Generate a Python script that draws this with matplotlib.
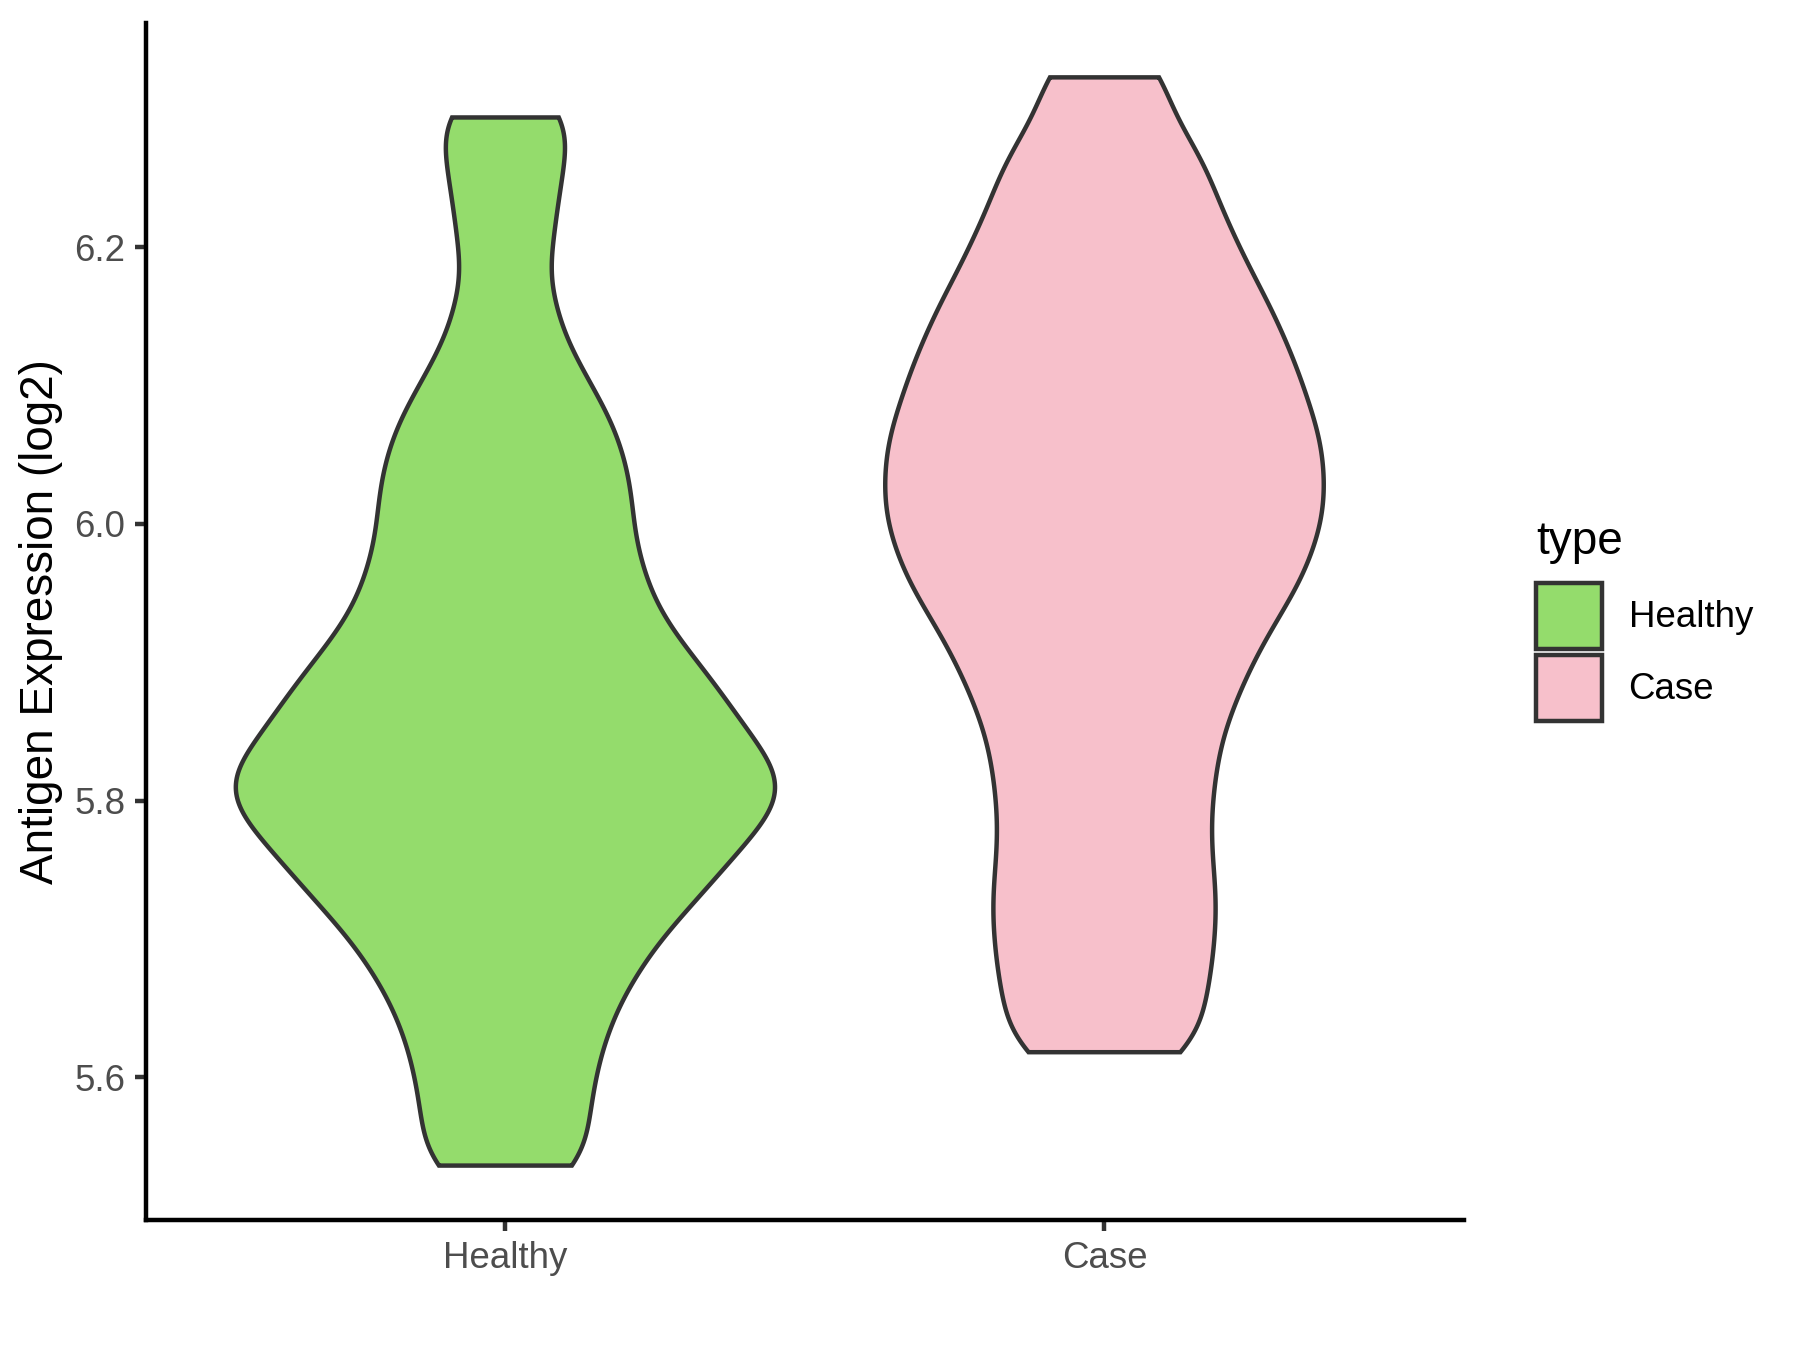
import numpy as np
import matplotlib.pyplot as plt
from matplotlib.patches import Patch

plt.rcParams['font.family'] = ['Liberation Sans', 'DejaVu Sans']

# expression values (log2) per group, estimated from the violin shapes
healthy_values = [5.536, 5.558, 5.579, 5.598, 5.617, 5.634, 5.650, 5.665, 5.678, 5.690,
                  5.702, 5.712, 5.722, 5.731, 5.739, 5.7471, 5.7554, 5.7626, 5.7697, 5.7767,
                  5.7837, 5.7896, 5.7964, 5.8021, 5.8079, 5.8136, 5.8194, 5.8253, 5.8323, 5.8383,
                  5.8454, 5.8525, 5.8598, 5.867, 5.875, 5.882, 5.891, 5.899, 5.908, 5.918,
                  5.928, 5.939, 5.951, 5.963, 5.975, 5.988, 6.002, 6.015, 6.028, 6.042,
                  6.056, 6.071, 6.087, 6.106, 6.130, 6.162, 6.201, 6.235, 6.265, 6.294]
case_values = [5.618, 5.637, 5.654, 5.671, 5.686, 5.702, 5.717, 5.732, 5.747, 5.763,
               5.779, 5.795, 5.811, 5.826, 5.841, 5.856, 5.869, 5.882, 5.894, 5.906,
               5.916, 5.927, 5.937, 5.946, 5.955, 5.963, 5.972, 5.980, 5.988, 5.996,
               6.004, 6.011, 6.019, 6.027, 6.034, 6.042, 6.050, 6.058, 6.065, 6.073,
               6.081, 6.090, 6.098, 6.107, 6.115, 6.124, 6.134, 6.143, 6.153, 6.163,
               6.174, 6.185, 6.198, 6.210, 6.224, 6.239, 6.255, 6.271, 6.292, 6.323]

groups = ["Healthy", "Case"]
colors = ["#94DC6C", "#F7C0CB"]
yticks = [5.6, 5.8, 6.0, 6.2]
bw = 0.025
edge_weight = 0.25  # partial reflection at the trimmed ends


def kde(vals, n=512):
    vals = np.asarray(vals)
    a, b = vals.min(), vals.max()
    grid = np.linspace(a, b, n)

    def k(centers):
        return np.exp(-0.5 * ((grid[:, None] - centers[None, :]) / bw) ** 2).sum(axis=1)

    d = k(vals) + edge_weight * (k(2 * a - vals) + k(2 * b - vals))
    d = d / (len(vals) * bw * np.sqrt(2 * np.pi))
    return grid, d


fig = plt.figure(figsize=(6, 4.5), dpi=300)
ax = fig.add_axes([0.0811, 0.0963, 0.7322, 0.8867])

dens = [kde(v) for v in [healthy_values, case_values]]
dmax = max(d.max() for _, d in dens)

for i, ((grid, d), col) in enumerate(zip(dens, colors)):
    pos = i + 1
    w = 0.45 * d / dmax
    xs = np.concatenate([pos - w, (pos + w)[::-1]])
    ys = np.concatenate([grid, grid[::-1]])
    ax.fill(xs, ys, facecolor=col, edgecolor="#333333", linewidth=1.07, zorder=2)

allv = np.concatenate([healthy_values, case_values])
lo, hi = allv.min(), allv.max()
pad = 0.05 * (hi - lo)
ax.set_ylim(lo - pad, hi + pad)
ax.set_xlim(0.4, 2.6)

ax.set_xticks([1, 2])
ax.set_xticklabels(groups)
ax.set_yticks(yticks)
ax.set_yticklabels([f"{t:.1f}" for t in yticks])
ax.tick_params(axis="both", length=2.75, width=1.07, color="#333333",
               labelsize=8.8, labelcolor="#4D4D4D", pad=2.2)

for s in ["top", "right"]:
    ax.spines[s].set_visible(False)
for s in ["left", "bottom"]:
    ax.spines[s].set_linewidth(1.07)
    ax.spines[s].set_color("black")

ax.set_ylabel("Antigen Expression (log2)", fontsize=11, color="black", labelpad=2.6)

handles = [Patch(facecolor=c, edgecolor="#333333", linewidth=1.07, label=g)
           for g, c in zip(groups, colors)]
leg = ax.legend(handles=handles, title="type", loc="upper left",
                bbox_to_anchor=(0.8533, 0.615), bbox_transform=fig.transFigure,
                frameon=False, fontsize=8.8, title_fontsize=11, alignment="left",
                handlelength=1.8, handleheight=2.39, handletextpad=0.725,
                labelspacing=0.166, borderpad=0, borderaxespad=0)
leg._legend_box.sep = 4.6

fig.savefig("out.png", dpi=300)
